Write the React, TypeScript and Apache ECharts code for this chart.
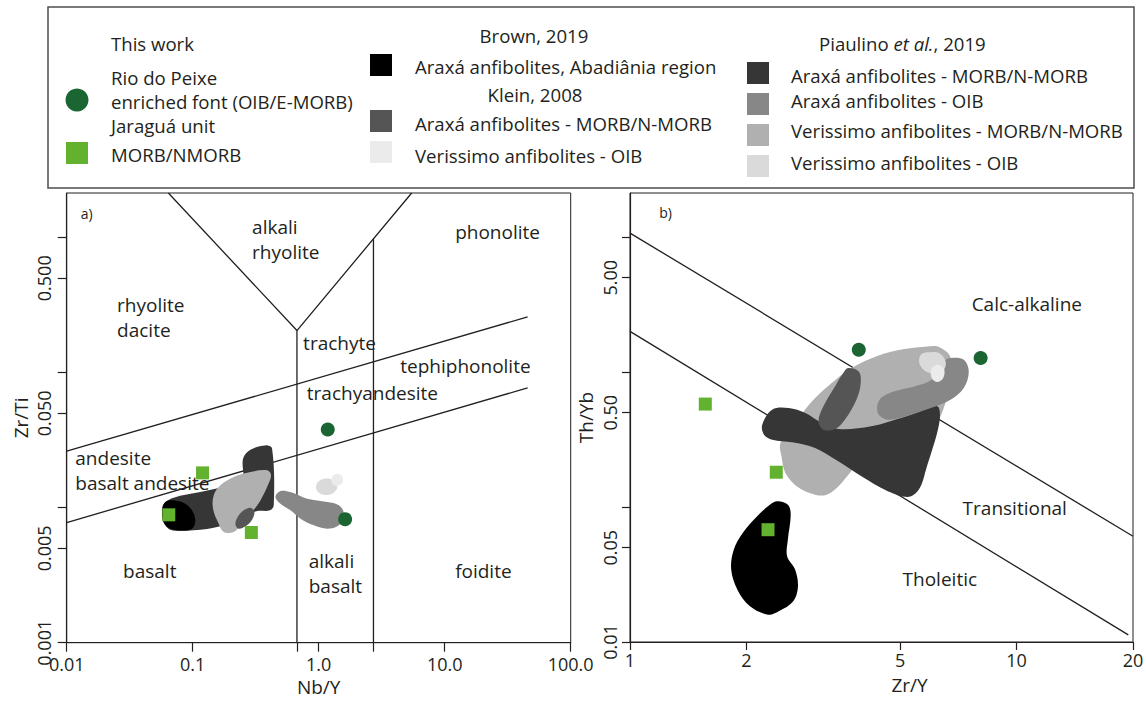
import React, { useEffect, useRef } from 'react';
import * as echarts from 'echarts';

const FONT = '"Open Sans", "Noto Sans", sans-serif';
const INK = '#231f20';
const L = (v: number) => Math.log10(v);

// ---------- Panel a: Nb/Y vs Zr/Ti ----------
const xRangeA = [0.01, 100];
const yRangeA = [0.001, 2.14];
const xTicksA = [0.01, 0.1, 1, 10, 100];
const xTickLabelsA = ['0.01', '0.1', '1.0', '10.0', '100.0'];
const yTicksA = [0.001, 0.005, 0.01, 0.05, 0.1, 0.5, 1];
const yLabelValuesA = [0.001, 0.005, 0.05, 0.5];
const yTickLabelsA = ['0.001', '0.005', '0.050', '0.500'];

const upperDiagonalA = [[0.01, 0.0262], [45.5, 0.259]];
const lowerDiagonalA = [[0.01, 0.00776], [45.5, 0.0771]];
const vBoundaryA = [[0.0641, 2.14], [0.672, 0.205], [5.47, 2.14]];
const leftVerticalA = [[0.672, 0.205], [0.672, 0.001]];
const rightVerticalA = [[2.72, 0.979], [2.72, 0.001]];

const rioDoPeixeA = [[1.18, 0.0379], [1.62, 0.00822]];
const jaraguaA = [[0.1197, 0.0181], [0.0646, 0.00885], [0.292, 0.00655]];

const piaulinoAraxaMorbA = [[0.058, 0.0104], [0.0705, 0.01186], [0.1149, 0.01306], [0.1762, 0.01422], [0.2464, 0.01549], [0.2509, 0.02306], [0.287, 0.02687], [0.3776, 0.02893], [0.4267, 0.02735], [0.4398, 0.0104], [0.4088, 0.00955], [0.3242, 0.00945], [0.27, 0.00877], [0.1658, 0.00727], [0.1017, 0.00679], [0.0664, 0.00687], [0.0587, 0.00805]];
const brownAbadianiaA = [[0.0606, 0.011], [0.0727, 0.01132], [0.0873, 0.0107], [0.0987, 0.00955], [0.1049, 0.00805], [0.0987, 0.00699], [0.0797, 0.00679], [0.0664, 0.00699], [0.0594, 0.00761], [0.057, 0.00902]];
const piaulinoVerissimoMorbA = [[0.287, 0.01837], [0.3894, 0.01889], [0.4189, 0.01735], [0.3894, 0.01422], [0.3445, 0.01132], [0.2959, 0.00929], [0.2464, 0.0076], [0.2115, 0.0066], [0.1762, 0.0066], [0.1608, 0.0076], [0.145, 0.00983], [0.1467, 0.01233], [0.1658, 0.01463], [0.2115, 0.01686]];
const kleinAraxaMorbA = [[0.287, 0.00999], [0.3088, 0.00929], [0.2959, 0.00814], [0.2619, 0.00727], [0.2318, 0.00699], [0.2182, 0.00752], [0.2276, 0.00852], [0.254, 0.00955]];
const piaulinoAraxaOibA = [[0.4971, 0.01328], [0.5968, 0.01306], [0.8098, 0.01165], [1.168, 0.011], [1.445, 0.0104], [1.584, 0.00902], [1.445, 0.0074], [1.168, 0.00699], [0.915, 0.0074], [0.7167, 0.00829], [0.5968, 0.00955], [0.4971, 0.0107], [0.4535, 0.012]];
const piaulinoVerissimoOibA = [[1.098, 0.01639], [1.28, 0.01611], [1.403, 0.01422], [1.28, 0.01269], [1.065, 0.01254], [0.9605, 0.01359], [0.972, 0.01522]];
const kleinVerissimoOibA = [[1.403, 0.01785], [1.546, 0.01686], [1.537, 0.01522], [1.403, 0.01455], [1.28, 0.01505], [1.28, 0.01686]];

const fieldLabelsA = [
  { text: 'alkali\nrhyolite', x: 0.296, y: 0.966 },
  { text: 'phonolite', x: 12.1, y: 1.1 },
  { text: 'rhyolite\ndacite', x: 0.0251, y: 0.257 },
  { text: 'trachyte', x: 0.752, y: 0.166 },
  { text: 'tephiphonolite', x: 4.44, y: 0.112 },
  { text: 'trachyandesite', x: 0.805, y: 0.0711 },
  { text: 'andesite\nbasalt andesite', x: 0.0117, y: 0.0188 },
  { text: 'basalt', x: 0.028, y: 0.00337 },
  { text: 'alkali\nbasalt', x: 0.833, y: 0.00327 },
  { text: 'foidite', x: 12.1, y: 0.00337 },
];
const panelTagA = [{ text: 'a)', x: 0.01294, y: 1.52 }];

// ---------- Panel b: Zr/Y vs Th/Yb ----------
const xRangeB = [1, 20];
const yRangeB = [0.01, 21.2];
const xTicksB = [1, 2, 5, 10, 20];
const xTickLabelsB = ['1', '2', '5', '10', '20'];
const yTicksB = [0.01, 0.05, 0.1, 0.5, 1, 5, 10];
const yLabelValuesB = [0.01, 0.05, 0.5, 5];
const yTickLabelsB = ['0.01', '0.05', '0.50', '5.00'];

const upperLineB = [[1, 10.7], [20, 0.0607]];
const lowerLineB = [[1, 2.0], [19.45, 0.0113]];

const rioDoPeixeB = [[3.906, 1.462], [8.07, 1.27]];
const jaraguaB = [[1.566, 0.579], [2.39, 0.181], [2.275, 0.0679]];

const piaulinoVerissimoMorbB = [[2.812, 0.511], [3.012, 0.642], [3.324, 0.829], [3.74, 1.07], [4.377, 1.321], [5.124, 1.481], [5.88, 1.549], [6.3, 1.53], [6.75, 1.27], [6.615, 0.66], [6.0, 0.374], [4.643, 0.266], [3.89, 0.212], [3.703, 0.1786], [3.457, 0.1422], [3.227, 0.1234], [3.012, 0.1234], [2.703, 0.1422], [2.523, 0.1786], [2.465, 0.2373], [2.45, 0.298], [2.625, 0.396]];
const piaulinoAraxaMorbB = [[2.198, 0.4074], [2.332, 0.526], [2.573, 0.541], [2.84, 0.497], [3.133, 0.419], [3.457, 0.3783], [4.208, 0.396], [5.124, 0.464], [6.3, 0.541], [5.767, 0.1687], [5.543, 0.1306], [5.225, 0.1186], [4.643, 0.1306], [3.968, 0.1687], [3.457, 0.2179], [3.012, 0.2735], [2.625, 0.3013], [2.332, 0.3154], [2.221, 0.3434]];
const kleinAraxaMorbB = [[3.667, 1.07], [3.905, 1.011], [3.952, 0.829], [3.852, 0.6237], [3.595, 0.4435], [3.39, 0.378], [3.164, 0.374], [3.072, 0.431], [3.164, 0.5567], [3.39, 0.7829], [3.561, 0.983]];
const piaulinoAraxaOibB = [[6.75, 1.27], [7.3, 1.234], [7.52, 1.011], [7.3, 0.761], [6.75, 0.6237], [6.0, 0.541], [5.33, 0.483], [4.643, 0.4435], [4.377, 0.497], [4.421, 0.6237], [4.83, 0.719], [5.435, 0.7829], [5.94, 0.853], [6.3, 1.011], [6.49, 1.2]];
const piaulinoVerissimoOibB = [[5.88, 1.399], [6.3, 1.383], [6.55, 1.2], [6.49, 1.041], [6.177, 0.983], [5.82, 1.011], [5.598, 1.166], [5.653, 1.344]];
const kleinVerissimoOibB = [[6.237, 1.133], [6.49, 1.052], [6.46, 0.903], [6.237, 0.843], [6.03, 0.903], [6.02, 1.052]];
const brownAbadianiaB = [[2.4, 0.1102], [2.56, 0.104], [2.604, 0.0877], [2.56, 0.0573], [2.549, 0.0431], [2.673, 0.0344], [2.719, 0.0258], [2.644, 0.02], [2.426, 0.01687], [2.275, 0.01594], [2.043, 0.01837], [1.896, 0.0244], [1.827, 0.0344], [1.855, 0.0483], [1.957, 0.0642], [2.133, 0.0853], [2.275, 0.1012]];

const fieldLabelsB = [
  { text: 'Calc-alkaline', x: 7.65, y: 3.19 },
  { text: 'Transitional', x: 7.25, y: 0.0984 },
  { text: 'Tholeitic', x: 5.07, y: 0.0294 },
];
const panelTagB = [{ text: 'b)', x: 1.19, y: 15.2 }];

// ---------- Legend ----------
const legendHeaders = ['This work', 'Brown, 2019', 'Klein, 2008'];
const thisWorkLabels = ['Rio do Peixe', 'enriched font (OIB/E-MORB)', 'Jaraguá unit', 'MORB/NMORB'];
const brownLabels = ['Araxá anfibolites, Abadiânia region'];
const kleinLabels = ['Araxá anfibolites - MORB/N-MORB', 'Verissimo anfibolites - OIB'];
const piaulinoLabels = ['Araxá anfibolites - MORB/N-MORB', 'Araxá anfibolites - OIB', 'Verissimo anfibolites - MORB/N-MORB', 'Verissimo anfibolites - OIB'];

const C = {
  rio: '#1b6532',
  jaragua: '#63b22f',
  brown: '#000000',
  kleinAraxa: '#555555',
  kleinVeri: '#ebebeb',
  piaAraxaMorb: '#363636',
  piaAraxaOib: '#878787',
  piaVeriMorb: '#b0b0b0',
  piaVeriOib: '#dadada',
};

const LEG_FS = 18.6;

function logAxis(gridIndex: number, range: number[], ticks: number[], labelVals: number[], labels: string[], o: any) {
  return {
    type: 'value',
    gridIndex,
    min: L(range[0]),
    max: L(range[1]),
    axisLine: { show: true, onZero: false, lineStyle: { color: INK, width: 1.2 } },
    axisTick: { show: true, inside: false, length: o.tickLen ?? 9, customValues: (o.extraTicks ? ticks.concat(o.extraTicks) : ticks).map(L), lineStyle: { color: INK, width: 1.2 } },
    axisLabel: {
      customValues: labelVals.map(L),
      formatter: (v: number) => {
        const i = labelVals.findIndex((x) => Math.abs(L(x) - v) < 1e-6);
        return i >= 0 ? labels[i] : '';
      },
      color: INK,
      fontSize: 18,
      fontFamily: FONT,
      margin: o.margin ?? 8,
      rotate: o.rotate ?? 0,
    },
    splitLine: { show: false },
    name: o.name,
    nameLocation: 'middle',
    nameGap: o.nameGap,
    nameTextStyle: { color: INK, fontSize: 19, fontFamily: FONT, padding: o.namePadding ?? 0 },
  };
}

function lineSeries(pts: number[][], gi: number) {
  return {
    type: 'line',
    xAxisIndex: gi,
    yAxisIndex: gi,
    data: pts.map((p) => [L(p[0]), L(p[1])]),
    symbol: 'none',
    silent: true,
    z: 2,
    lineStyle: { color: INK, width: 1.3 },
  };
}

function shapeSeries(shapes: { pts: number[][]; color: string }[], gi: number) {
  return {
    type: 'custom',
    xAxisIndex: gi,
    yAxisIndex: gi,
    z: 3,
    silent: true,
    clip: true,
    data: shapes.map((s) => [L(s.pts[0][0]), L(s.pts[0][1])]),
    renderItem: (params: any, api: any) => {
      const s = shapes[params.dataIndex];
      return {
        type: 'polygon',
        shape: { points: s.pts.map((p) => api.coord([L(p[0]), L(p[1])])), smooth: 0.35 },
        style: { fill: s.color, stroke: null },
      };
    },
  };
}

function textSeries(labels: { text: string; x: number; y: number }[], gi: number, fontSize: number) {
  return {
    type: 'custom',
    xAxisIndex: gi,
    yAxisIndex: gi,
    z: 4,
    silent: true,
    data: labels.map((l) => [L(l.x), L(l.y)]),
    renderItem: (params: any, api: any) => {
      const l = labels[params.dataIndex];
      const [x, y] = api.coord([L(l.x), L(l.y)]);
      return {
        type: 'text',
        x,
        y,
        style: { text: l.text, fill: INK, fontSize, fontFamily: FONT, align: 'left', verticalAlign: 'middle', lineHeight: fontSize + 6 },
      };
    },
  };
}

function pointSeries(pts: number[][], gi: number, symbol: string, size: number, color: string) {
  return {
    type: 'scatter',
    xAxisIndex: gi,
    yAxisIndex: gi,
    z: 5,
    symbol,
    symbolSize: size,
    itemStyle: { color, opacity: 1 },
    data: pts.map((p) => [L(p[0]), L(p[1])]),
  };
}

function legendGraphic() {
  const els: any[] = [];
  const txt = (text: string, x: number, y: number, align = 'left') =>
    els.push({ type: 'text', x, y, silent: true, style: { text, fill: INK, fontSize: LEG_FS, fontFamily: FONT, align, verticalAlign: 'middle', lineHeight: 20 } });
  const sq = (x: number, y: number, color: string) =>
    els.push({ type: 'rect', silent: true, shape: { x, y, width: 22, height: 22 }, style: { fill: color } });

  els.push({ type: 'rect', silent: true, shape: { x: 48, y: 7, width: 1086, height: 181 }, style: { fill: 'none', stroke: '#4d4d4d', lineWidth: 1.5 } });
  // This work
  txt(legendHeaders[0], 111, 43);
  els.push({ type: 'circle', silent: true, shape: { cx: 77, cy: 100, r: 11.5 }, style: { fill: C.rio } });
  txt(thisWorkLabels[0], 111, 77);
  txt(thisWorkLabels[1], 111, 101);
  txt(thisWorkLabels[2], 111, 125);
  sq(66, 142, C.jaragua);
  txt(thisWorkLabels[3], 111, 154);
  // Brown / Klein
  txt(legendHeaders[1], 534, 35, 'center');
  sq(370, 54, C.brown);
  txt(brownLabels[0], 415, 66);
  txt(legendHeaders[2], 535, 94, 'center');
  sq(370, 110, C.kleinAraxa);
  txt(kleinLabels[0], 415, 123);
  sq(370, 141, C.kleinVeri);
  txt(kleinLabels[1], 415, 155);
  // Piaulino
  els.push({
    type: 'text', x: 819, y: 43, silent: true,
    style: {
      text: '{n|Piaulino }{i|et al.}{n|, 2019}',
      verticalAlign: 'middle', align: 'left',
      rich: {
        n: { fill: INK, fontSize: LEG_FS, fontFamily: FONT },
        i: { fill: INK, fontSize: LEG_FS, fontFamily: FONT, fontStyle: 'italic' },
      },
    },
  });
  const piaColors = [C.piaAraxaMorb, C.piaAraxaOib, C.piaVeriMorb, C.piaVeriOib];
  const piaSqY = [62, 93, 124, 155];
  const piaTxtY = [75, 100, 130, 162];
  piaulinoLabels.forEach((t, i) => {
    sq(747, piaSqY[i], piaColors[i]);
    txt(t, 791, piaTxtY[i]);
  });
  return els;
}

export default function App() {
  const ref = useRef<HTMLDivElement>(null);
  useEffect(() => {
    if (!ref.current) return;
    const chart = echarts.init(ref.current, undefined, { renderer: 'svg' });

    const shapesA = [
      { pts: piaulinoAraxaMorbA, color: C.piaAraxaMorb },
      { pts: brownAbadianiaA, color: C.brown },
      { pts: piaulinoVerissimoMorbA, color: C.piaVeriMorb },
      { pts: kleinAraxaMorbA, color: C.kleinAraxa },
      { pts: piaulinoAraxaOibA, color: C.piaAraxaOib },
      { pts: piaulinoVerissimoOibA, color: C.piaVeriOib },
      { pts: kleinVerissimoOibA, color: C.kleinVeri },
    ];
    const shapesB = [
      { pts: piaulinoVerissimoMorbB, color: C.piaVeriMorb },
      { pts: piaulinoAraxaMorbB, color: C.piaAraxaMorb },
      { pts: kleinAraxaMorbB, color: C.kleinAraxa },
      { pts: piaulinoAraxaOibB, color: C.piaAraxaOib },
      { pts: piaulinoVerissimoOibB, color: C.piaVeriOib },
      { pts: kleinVerissimoOibB, color: C.kleinVeri },
      { pts: brownAbadianiaB, color: C.brown },
    ];

    chart.setOption({
      animation: false,
      backgroundColor: '#ffffff',
      grid: [
        { left: 66.7, top: 193, width: 504, height: 449.7, show: true, borderColor: INK, borderWidth: 1, backgroundColor: 'transparent', outerBoundsMode: 'none' },
        { left: 630, top: 193, width: 503, height: 449, show: true, borderColor: INK, borderWidth: 1, backgroundColor: 'transparent', outerBoundsMode: 'none' },
      ],
      xAxis: [
        logAxis(0, xRangeA, xTicksA, xTicksA, xTickLabelsA, { name: 'Nb/Y', nameGap: 35, margin: 12, extraTicks: [leftVerticalA[0][0], rightVerticalA[0][0]] }),
        logAxis(1, xRangeB, xTicksB, xTicksB, xTickLabelsB, { name: 'Zr/Y', nameGap: 33, margin: 9, tickLen: 8, namePadding: [0, 0, 0, 56] }),
      ],
      yAxis: [
        logAxis(0, yRangeA, yTicksA, yLabelValuesA, yTickLabelsA, { name: 'Zr/Ti', nameGap: 36, margin: 14, rotate: 90 }),
        logAxis(1, yRangeB, yTicksB, yLabelValuesB, yTickLabelsB, { name: 'Th/Yb', nameGap: 35, margin: 11, rotate: 90, tickLen: 8 }),
      ],
      graphic: { elements: legendGraphic() },
      series: [
        lineSeries(upperDiagonalA, 0),
        lineSeries(lowerDiagonalA, 0),
        lineSeries(vBoundaryA, 0),
        lineSeries(leftVerticalA, 0),
        lineSeries(rightVerticalA, 0),
        shapeSeries(shapesA, 0),
        textSeries(fieldLabelsA, 0, 19),
        textSeries(panelTagA, 0, 14),
        pointSeries(jaraguaA, 0, 'rect', 13, C.jaragua),
        pointSeries(rioDoPeixeA, 0, 'circle', 14, C.rio),

        lineSeries(upperLineB, 1),
        lineSeries(lowerLineB, 1),
        shapeSeries(shapesB, 1),
        textSeries(fieldLabelsB, 1, 19),
        textSeries(panelTagB, 1, 14),
        pointSeries(jaraguaB, 1, 'rect', 13, C.jaragua),
        pointSeries(rioDoPeixeB, 1, 'circle', 14, C.rio),
      ],
    });
    return () => chart.dispose();
  }, []);
  return <div ref={ref} style={{ position: 'fixed', left: 0, top: 0, width: 1146, height: 701 }} />;
}
